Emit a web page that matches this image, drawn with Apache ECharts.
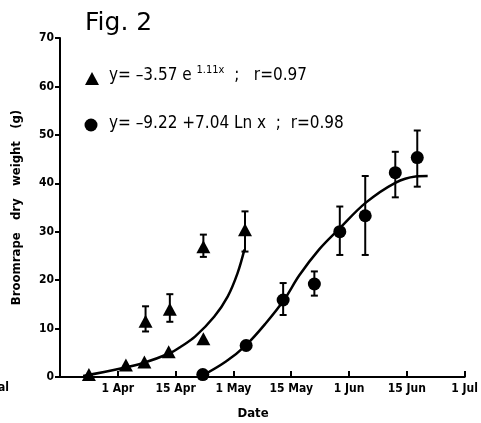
<!DOCTYPE html>
<html><head><meta charset="utf-8">
<script src="https://cdn.jsdelivr.net/npm/echarts@6/dist/echarts.min.js"></script>
<style>html,body{margin:0;padding:0;background:#fff}#c{width:481px;height:423px}</style>
</head><body><div id="c"></div>
<script>
// x positions: 1 = 1 Apr, 2 = 15 Apr, 3 = 1 May, 4 = 15 May, 5 = 1 Jun, 6 = 15 Jun, 7 = 1 Jul
const xTickLabels = ['1 Apr','15 Apr','1 May','15 May','1 Jun','15 Jun','1 Jul'];
const yTicks = [0,10,20,30,40,50,60,70];

// Triangle series (observed)
const triX  = [0.5, 1.14, 1.46, 1.48, 1.88, 1.9, 2.48, 2.48, 3.2];
const triY  = [0.5, 2.5, 3.1, 11.5, 5.2, 14.0, 26.9, 7.9, 30.4];
const triLo = [null, null, null, 9.4, null, 11.4, 24.8, null, 25.9];
const triHi = [null, null, null, 14.6, null, 17.1, 29.4, null, 34.2];

// Circle series (observed)
const cirX  = [2.47, 3.22, 3.86, 4.4, 4.84, 5.28, 5.8, 6.18];
const cirY  = [0.5, 6.5, 15.9, 19.2, 30.0, 33.3, 42.2, 45.3];
const cirLo = [null, null, 12.8, 16.8, 25.2, 25.2, 37.1, 39.3];
const cirHi = [null, null, 19.4, 21.8, 35.2, 41.5, 46.5, 50.9];

// Fitted curves
const triCurveX = [0.4, 1.03, 1.44, 1.9, 2.07, 2.34, 2.67, 2.90, 3.07, 3.19];
const triCurveY = [0.2, 1.7, 2.9, 4.9, 6.1, 8.4, 12.5, 16.6, 21.4, 26.3];
const cirCurveX = [2.45, 2.87, 3.22, 3.56, 3.88, 4.14, 4.48, 4.83, 5.29, 5.8, 6.15, 6.36];
const cirCurveY = [0.2, 3.2, 6.6, 11.1, 16.0, 21.0, 26.3, 30.6, 36.0, 40.1, 41.4, 41.5];

const FONT = 'DejaVu Sans Condensed';
const zip = (a, b) => a.map((v, i) => [v, b[i]]);
const errData = (xs, lo, hi) => xs.map((v, i) => [v, lo[i], hi[i]]).filter(d => d[1] != null);

function errRender(params, api) {
  const x = api.value(0), lo = api.value(1), hi = api.value(2);
  const p1 = api.coord([x, lo]), p2 = api.coord([x, hi]);
  const cap = 3.5;
  const st = {stroke: '#000', lineWidth: 2};
  return {type: 'group', children: [
    {type: 'line', shape: {x1: p1[0], y1: p1[1], x2: p2[0], y2: p2[1]}, style: st},
    {type: 'line', shape: {x1: p1[0]-cap, y1: p1[1], x2: p1[0]+cap, y2: p1[1]}, style: st},
    {type: 'line', shape: {x1: p2[0]-cap, y1: p2[1], x2: p2[0]+cap, y2: p2[1]}, style: st}
  ]};
}

const chart = echarts.init(document.getElementById('c'), null, {renderer: 'canvas'});
chart.setOption({
  animation: false,
  backgroundColor: '#fff',
  grid: {left: 60, right: 15, top: 38, bottom: 46, containLabel: false},
  xAxis: {
    type: 'value', min: 0, max: 7, interval: 1,
    axisLine: {show: true, lineStyle: {color: '#000', width: 2}},
    axisTick: {show: true, inside: true, length: 6, lineStyle: {color: '#000', width: 2}},
    splitLine: {show: false},
    axisLabel: {
      color: '#000', fontFamily: FONT, fontWeight: 'bold', fontSize: 12, margin: 6,
      formatter: v => (v >= 1 && v <= 7) ? xTickLabels[Math.round(v) - 1] : ''
    }
  },
  yAxis: {
    type: 'value', min: 0, max: 70, interval: 10,
    name: 'Broomrape   dry   weight   (g)', nameLocation: 'middle', nameGap: 37,
    nameTextStyle: {color: '#000', fontFamily: FONT, fontWeight: 'bold', fontSize: 13},
    axisLine: {show: true, lineStyle: {color: '#000', width: 2}},
    axisTick: {show: true, length: 5, lineStyle: {color: '#000', width: 2}},
    splitLine: {show: false},
    axisLabel: {color: '#000', fontFamily: FONT, fontWeight: 'bold', fontSize: 12, margin: 6,
      formatter: v => yTicks.includes(v) ? String(v) : ''}
  },
  series: [
    {type: 'line', data: zip(triCurveX, triCurveY), smooth: 0.35, showSymbol: false,
     lineStyle: {color: '#000', width: 2.5}, z: 2},
    {type: 'line', data: zip(cirCurveX, cirCurveY), smooth: 0.35, showSymbol: false,
     lineStyle: {color: '#000', width: 2.5}, z: 2},
    {type: 'custom', renderItem: errRender, data: errData(triX, triLo, triHi), z: 3},
    {type: 'custom', renderItem: errRender, data: errData(cirX, cirLo, cirHi), z: 3},
    {type: 'scatter', data: zip(triX, triY), symbol: 'triangle', symbolSize: [14, 13],
     itemStyle: {color: '#000', opacity: 1}, z: 4},
    {type: 'scatter', data: zip(cirX, cirY), symbol: 'circle', symbolSize: 13,
     itemStyle: {color: '#000', opacity: 1}, z: 4}
  ],
  graphic: [
    {type: 'text', left: 85, top: 11, style: {text: 'Fig. 2', font: '25px "DejaVu Sans"', fill: '#000'}},
    {type: 'polygon', shape: {points: [[92, 72], [99, 85], [85, 85]]}, style: {fill: '#000'}},
    {type: 'text', left: 109, top: 65, style: {
      rich: {
        n: {font: '17px "DejaVu Sans Condensed"', fill: '#000', verticalAlign: 'bottom'},
        s: {font: '11px "DejaVu Sans Condensed"', fill: '#000', verticalAlign: 'top', padding: [0, 0, 8, 0]}
      },
      text: '{n|y= –3.57 e }{s|1.11x}{n|  ;   r=0.97}'
    }},
    {type: 'circle', shape: {cx: 91, cy: 125, r: 6.5}, style: {fill: '#000'}},
    {type: 'text', left: 109, top: 115, style: {text: 'y= –9.22 +7.04 Ln x  ;  r=0.98',
      font: '17px "DejaVu Sans Condensed"', fill: '#000'}},
    {type: 'text', x: 253, y: 407, style: {text: 'Date', font: 'bold 13px "DejaVu Sans Condensed"', fill: '#000', align: 'center'}},
    {type: 'text', x: 9, y: 382, style: {text: 'Initial', font: 'bold 12px "DejaVu Sans Condensed"', fill: '#000', align: 'right'}}
  ]
});
</script></body></html>
